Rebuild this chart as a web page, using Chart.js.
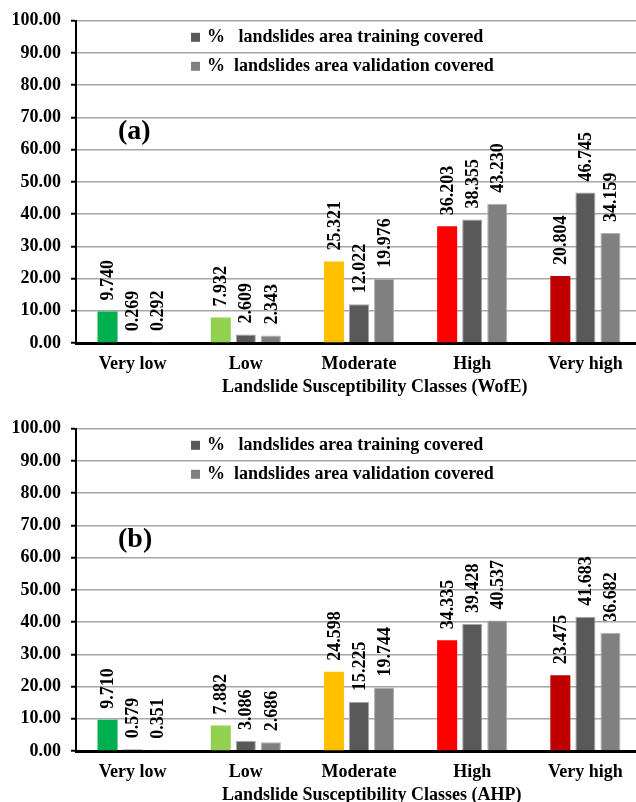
<!DOCTYPE html>
<html><head><meta charset="utf-8">
<script src="https://cdn.jsdelivr.net/npm/chart.js@4/dist/chart.umd.min.js"></script>
<style>
html,body{margin:0;padding:0;background:#fff;overflow:hidden;width:636px;height:802px;position:relative}
.wrap{position:absolute;left:0;width:642px;height:401px}
#wa{top:0}
#wb{top:408px}
</style></head><body>
<div class="wrap" id="wa"><canvas id="ca"></canvas></div>
<div class="wrap" id="wb"><canvas id="cb"></canvas></div>
<script>
const categories = ['Very low', 'Low', 'Moderate', 'High', 'Very high'];
const yTickValues = [0, 10, 20, 30, 40, 50, 60, 70, 80, 90, 100];
const classColors = ['#00b050', '#92d050', '#ffc000', '#ff0000', '#c00000'];
const seriesNames = ['%   landslides area training covered', '%  landslides area validation covered'];
const seriesColors = ['#595959', '#808080'];

// (a) WofE
const wofeClassArea = [9.740, 7.932, 25.321, 36.203, 20.804];
const wofeTraining = [0.269, 2.609, 12.022, 38.355, 46.745];
const wofeValidation = [0.292, 2.343, 19.976, 43.230, 34.159];
// (b) AHP
const ahpClassArea = [9.710, 7.882, 24.598, 34.335, 23.475];
const ahpTraining = [0.579, 3.086, 15.225, 39.428, 41.683];
const ahpValidation = [0.351, 2.686, 19.744, 40.537, 36.682];

const FONT = "'Liberation Serif','Times New Roman',serif";

const decor = {
  id: 'decor',
  afterDatasetsDraw(chart, args, opts) {
    const ctx = chart.ctx, a = chart.chartArea;
    ctx.save();
    ctx.fillStyle = '#000';
    // value labels
    ctx.font = 'bold 18px ' + FONT;
    ctx.textAlign = 'left';
    ctx.textBaseline = 'middle';
    chart.data.datasets.forEach((ds, i) => {
      chart.getDatasetMeta(i).data.forEach((el, j) => {
        ctx.save();
        ctx.translate(el.x + 1, el.y - 11);
        ctx.rotate(-Math.PI / 2);
        ctx.fillText(ds.data[j].toFixed(3), 0, 0);
        ctx.restore();
      });
    });
    // legend (series 2 and 3 only)
    [1, 2].forEach((i, k) => {
      const ds = chart.data.datasets[i];
      const cy = a.top + 16.5 + k * 29;
      ctx.fillStyle = ds.backgroundColor;
      ctx.fillRect(a.left + 115, cy - 4.5, 9, 9);
      ctx.fillStyle = '#000';
      ctx.fillText(ds.label, a.left + 131, cy);
    });
    // panel letter
    ctx.font = 'bold 28px ' + FONT;
    ctx.fillText(opts.panel, a.left + 42, a.top + 111);
    // axis title
    ctx.font = 'bold 18px ' + FONT;
    ctx.fillText(opts.title, a.left + 146, a.bottom + 44);
    ctx.restore();
  }
};

function makeChart(id, classArea, training, validation, panel, title) {
  return new Chart(document.getElementById(id), {
    type: 'bar',
    data: {
      labels: categories,
      datasets: [
        { label: 'class', data: classArea, backgroundColor: classColors, borderWidth: 0 },
        { label: seriesNames[0], data: training, backgroundColor: seriesColors[0], borderColor: '#a6a6a6', borderWidth: 1 },
        { label: seriesNames[1], data: validation, backgroundColor: seriesColors[1], borderColor: '#b0b0b0', borderWidth: 1 }
      ]
    },
    options: {
      responsive: true,
      maintainAspectRatio: false,
      animation: false,
      layout: { padding: { top: 19, left: 0, right: 0, bottom: 0 } },
      datasets: { bar: { categoryPercentage: 0.664, barPercentage: 0.8 } },
      plugins: {
        legend: { display: false },
        tooltip: { enabled: false },
        decor: { panel: panel, title: title }
      },
      scales: {
        x: {
          afterFit: s => { s.height = 58; },
          grid: { display: false, drawTicks: false },
          border: { display: true, color: '#000', width: 3 },
          ticks: { color: '#000', font: { family: FONT, size: 18, weight: 'bold' }, padding: 11, maxRotation: 0, autoSkip: false }
        },
        y: {
          min: 0, max: 100,
          afterBuildTicks: s => { s.ticks = yTickValues.map(v => ({ value: v })); },
          afterFit: s => { s.width = 76; },
          grid: { color: '#a6a6a6', lineWidth: 1.5, tickColor: '#000', tickLength: 5, tickWidth: 2 },
          border: { color: '#000', width: 2 },
          ticks: { color: '#000', font: { family: FONT, size: 18, weight: 'bold' }, padding: 10, callback: v => Number(v).toFixed(2) }
        }
      }
    },
    plugins: [decor]
  });
}

makeChart('ca', wofeClassArea, wofeTraining, wofeValidation, '(a)', 'Landslide Susceptibility Classes (WofE)');
makeChart('cb', ahpClassArea, ahpTraining, ahpValidation, '(b)', 'Landslide Susceptibility Classes (AHP)');
</script>
</body></html>
